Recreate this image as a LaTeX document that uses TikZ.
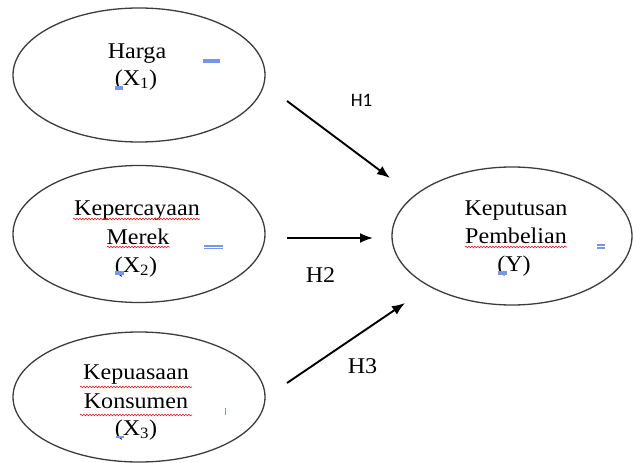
\documentclass[tikz,border=0pt]{standalone}
\usepackage{fontspec}
\usetikzlibrary{shapes.geometric,arrows.meta,decorations.pathmorphing}
\newfontfamily\tnrfont[FakeStretch=1.07]{Liberation Serif}
\newfontfamily\carlitofont{Carlito}
\definecolor{wordblue}{RGB}{120,150,230}
\definecolor{squig}{RGB}{230,30,30}
\begin{document}
\begin{tikzpicture}[x=1pt,y=-1pt,
  oval/.style={ellipse,draw={rgb,255:red,60;green,60;blue,60},line width=1.3pt,inner sep=0pt},
  lbl/.style={anchor=base,inner sep=0pt,font=\tnrfont\fontsize{22.5}{27}\selectfont},
  hlbl/.style={anchor=base,inner sep=0pt,font=\tnrfont\fontsize{22.5}{27}\selectfont},
  hsans/.style={anchor=base,inner sep=0pt,font=\carlitofont\fontsize{19}{22}\selectfont},
  conn/.style={line width=1.9pt,-{Latex[length=13pt,width=10pt]}},
  wavy/.style={squig,line width=0.6pt,decorate,decoration={snake,amplitude=0.8pt,segment length=3pt}},
  bluemark/.style={fill=wordblue,draw=none}
]
\useasboundingbox (0,0) rectangle (633,463);
\fill[white] (0,0) rectangle (633,463);

% ellipses
\node[oval,minimum width=252pt,minimum height=134pt] (e1) at (139,75) {};
\node[oval,minimum width=252pt,minimum height=137pt] (e2) at (139,234) {};
\node[oval,minimum width=252pt,minimum height=130pt] (e3) at (139,397) {};
\node[oval,minimum width=240pt,minimum height=138pt] (ey) at (512,236) {};

% texts
\node[lbl] (t1a) at (137,58) {Harga};
\node[lbl] (t1b) at (136,85) {(X\textsubscript{1})};
\node[lbl] (t2a) at (137,215) {Kepercayaan};
\node[lbl] (t2b) at (138,244) {Merek};
\node[lbl] (t2c) at (136,272) {(X\textsubscript{2})};
\node[lbl] (t3a) at (136,379) {Kepuasaan};
\node[lbl] (t3b) at (136,408) {Konsumen};
\node[lbl] (t3c) at (136,435) {(X\textsubscript{3})};
\node[lbl] (tya) at (516,215) {Keputusan};
\node[lbl] (tyb) at (516,243) {Pembelian};
\node[lbl] (tyc) at (514,271) {(Y)};

% spell-check underlines
\draw[wavy] (73,219) -- (200,219);
\draw[wavy] (107,247) -- (170,247);
\draw[wavy] (80,387) -- (192,387);
\draw[wavy] (80,415) -- (192,415);
\draw[wavy] (465,247) -- (567,247);

% blue marks
\fill[bluemark] (203,59) rectangle (220,63);
\fill[bluemark] (115,86) rectangle (123,90);
\fill[bluemark] (204,245) rectangle (223,246.6);
\fill[bluemark] (204,247.6) rectangle (223,249.2);
\fill[bluemark] (115,271) rectangle (124,275);
\fill[bluemark] (224.5,408) rectangle (225.7,415);
\fill[bluemark] (116,436) rectangle (124,438);
\fill[bluemark] (597,244) rectangle (605,245.8);
\fill[bluemark] (597,247) rectangle (605,248.8);
\fill[bluemark] (498,271) rectangle (507,275);

% connectors
\coordinate (a1s) at (287,101);
\coordinate (a1e) at (390,178);
\coordinate (a2s) at (287,238);
\coordinate (a2e) at (373,238);
\coordinate (a3s) at (287,383);
\coordinate (a3e) at (405,303);
\draw[conn] (a1s) -- (a1e);
\draw[conn] (a2s) -- (a2e);
\draw[conn] (a3s) -- (a3e);

% hypothesis labels
\node[hsans] (h1) at (361.5,106) {H1};
\node[hlbl] (h2) at (320.5,282) {H2};
\node[hlbl] (h3) at (362.5,373) {H3};
\end{tikzpicture}
\end{document}
